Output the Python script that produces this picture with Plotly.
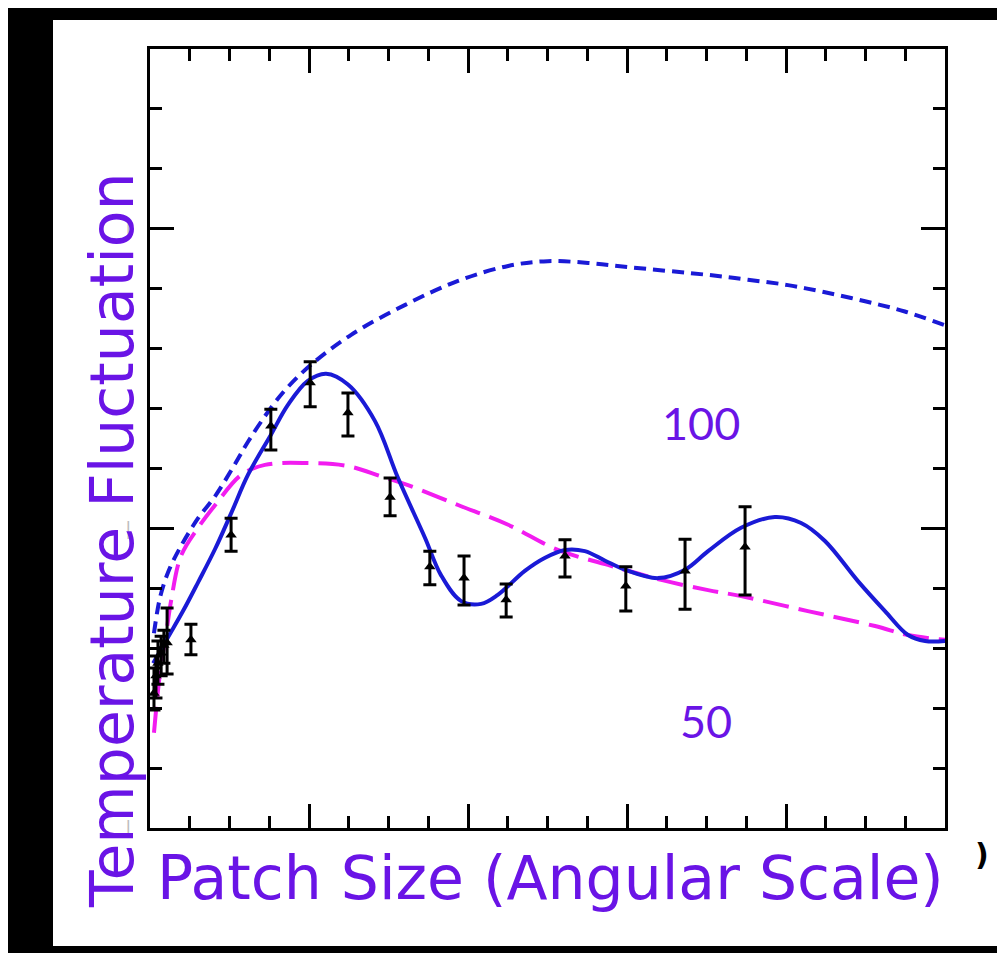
import plotly.graph_objects as go

# ---- data (arbitrary units: x 0..20, y 0..13) ----
dash_blue_x = [0.10, 0.25, 0.45, 0.75, 1.21, 1.64, 2.09, 2.47, 3.04, 3.47, 4.05, 5.06, 6.42, 7.75, 9.01,
               10.01, 11.02, 12.03, 14.04, 15.04, 16.05, 16.98, 17.99, 18.99, 20.0]
dash_blue_y = [3.25, 3.84, 4.26, 4.67, 5.17, 5.54, 6.02, 6.45, 7.01, 7.36, 7.73, 8.23, 8.73, 9.13, 9.38,
               9.46, 9.43, 9.36, 9.23, 9.15, 9.06, 8.94, 8.79, 8.62, 8.39]

solid_x = [0.08, 0.45, 0.83, 1.21, 1.64, 2.04, 2.47, 3.04, 3.47, 3.97, 4.43, 4.98, 5.66, 6.24, 6.92, 7.32,
           7.82, 8.33, 8.75, 9.43, 9.94, 10.44, 10.94, 11.45, 11.95, 12.78, 13.46, 14.04, 14.87, 15.72,
           16.38, 16.98, 17.81, 18.49, 19.07, 19.50, 20.0]
solid_y = [2.75, 3.18, 3.62, 4.10, 4.66, 5.25, 5.90, 6.56, 7.06, 7.46, 7.58, 7.40, 6.79, 5.84, 4.84, 4.22,
           3.79, 3.74, 3.89, 4.29, 4.51, 4.64, 4.62, 4.46, 4.31, 4.17, 4.31, 4.62, 5.01, 5.19,
           5.09, 4.79, 4.12, 3.62, 3.22, 3.12, 3.12]

magenta_x = [0.10, 0.20, 0.30, 0.38, 0.53, 0.78, 1.21, 1.64, 2.29, 2.89, 3.97, 4.98, 5.81, 6.49, 7.75,
             9.01, 10.26, 11.52, 12.86, 14.04, 14.87, 16.55, 18.24, 19.07, 20.0]
magenta_y = [1.59, 2.29, 2.84, 3.12, 3.79, 4.54, 5.01, 5.39, 5.89, 6.06, 6.09, 6.04, 5.87, 5.72, 5.39,
             5.06, 4.64, 4.39, 4.14, 3.97, 3.87, 3.62, 3.37, 3.22, 3.14]

pts_x = [0.10, 0.15, 0.20, 0.28, 0.35, 0.43, 1.03, 2.04, 3.04, 4.03, 4.98, 6.04, 7.04, 7.90, 8.96,
         10.44, 11.97, 13.46, 14.97]
pts_y = [2.25, 2.54, 2.75, 2.92, 3.05, 3.09, 3.14, 4.89, 6.71, 7.43, 6.93, 5.52, 4.36, 4.17, 3.81,
         4.54, 4.04, 4.29, 4.69]
err_minus = [0.28, 0.37, 0.35, 0.38, 0.30, 0.52, 0.25, 0.27, 0.40, 0.40, 0.39, 0.31, 0.30, 0.45, 0.29,
             0.35, 0.42, 0.64, 0.80]
err_plus = [0.42, 0.33, 0.37, 0.28, 0.25, 0.58, 0.26, 0.28, 0.28, 0.35, 0.33, 0.32, 0.26, 0.37, 0.26,
            0.27, 0.32, 0.53, 0.67]

y_tickvals = [0, 5, 10]
y_ticktext = ["|", "|", "|"]   # remnants of cropped tick labels

x_title = "Patch Size (Angular Scale)"
y_title = "Temperature Fluctuation"
labels = ["100", "50"]
label_x = [13.86, 13.99]
label_y = [6.76, 1.79]

PURPLE = "#6a14e6"
BLUE = "#1a1ad6"
MAGENTA = "#f21cf0"

fig = go.Figure()
fig.add_trace(go.Scatter(x=magenta_x, y=magenta_y, mode="lines", line_shape="spline",
                         line=dict(color=MAGENTA, width=4, dash="26px,10px"), hoverinfo="skip"))
fig.add_trace(go.Scatter(x=dash_blue_x, y=dash_blue_y, mode="lines", line_shape="spline",
                         line=dict(color=BLUE, width=4, dash="12px,7px"), hoverinfo="skip"))
fig.add_trace(go.Scatter(x=solid_x, y=solid_y, mode="lines", line_shape="spline",
                         line=dict(color=BLUE, width=4), hoverinfo="skip"))
fig.add_trace(go.Scatter(x=pts_x, y=pts_y, mode="markers",
                         marker=dict(symbol="triangle-up", size=10, color="black"),
                         error_y=dict(type="data", array=err_plus, arrayminus=err_minus,
                                      color="black", thickness=3, width=6.5)))
# invisible trace to activate top/right axes
fig.add_trace(go.Scatter(x=[0], y=[0], xaxis="x2", yaxis="y2", mode="markers",
                         marker=dict(opacity=0), hoverinfo="skip"))

common = dict(showgrid=False, zeroline=False, showline=True, linecolor="black", linewidth=3,
              ticks="inside", tickcolor="black", tickwidth=3)
minor = dict(dtick=1, ticklen=12, ticks="inside", tickcolor="black", tickwidth=3)
fig.update_layout(
    width=1005, height=953,
    margin=dict(l=142, r=68, t=41, b=133),
    paper_bgcolor="black", plot_bgcolor="white",
    showlegend=False,
    xaxis=dict(range=[0, 20], dtick=4, tick0=0, ticklen=24, minor=minor, showticklabels=False, **common),
    xaxis2=dict(range=[0, 20], dtick=4, tick0=0, ticklen=24, overlaying="x", side="top",
                minor=minor, showticklabels=False, **common),
    yaxis=dict(range=[0, 13], tickmode="array", tickvals=y_tickvals, ticktext=y_ticktext, ticklen=24,
               minor=minor, showticklabels=True, ticklabelstandoff=12,
               tickfont=dict(family="DejaVu Sans", size=18, color="#bdbdbd"), **common),
    yaxis2=dict(range=[0, 13], dtick=5, tick0=0, ticklen=24, overlaying="y", side="right",
                minor=minor, showticklabels=False, **common),
)

# white page area behind the plot
fig.add_shape(type="rect", xref="paper", yref="paper", layer="below",
              x0=(45 - 142) / 795, x1=(1015 - 142) / 795, y0=(820 - 938) / 779, y1=(820 - 12) / 779,
              fillcolor="white", line=dict(width=0))

for t, lx, ly in zip(labels, label_x, label_y):
    fig.add_annotation(x=lx, y=ly, xref="x", yref="y", text=t, showarrow=False,
                       xanchor="center", yanchor="middle",
                       font=dict(family="Lato", size=45, color=PURPLE))

fig.add_annotation(x=(542 - 142) / 795, y=(820 - 870) / 779, xref="paper", yref="paper",
                   text=x_title, showarrow=False, xanchor="center", yanchor="middle",
                   font=dict(family="DejaVu Sans", size=60, color=PURPLE))
fig.add_annotation(x=(104 - 142) / 795, y=(820 - 532) / 779, xref="paper", yref="paper",
                   text=y_title, showarrow=False, textangle=-90, xanchor="center", yanchor="middle",
                   font=dict(family="DejaVu Sans", size=60, color=PURPLE))
# small black fragment at right of the axis title
fig.add_annotation(x=(974 - 142) / 795, y=(820 - 846) / 779, xref="paper", yref="paper",
                   text="<b>)</b>", showarrow=False, xanchor="center", yanchor="middle",
                   font=dict(family="DejaVu Sans", size=30, color="black"))

fig.write_html("out.html")
